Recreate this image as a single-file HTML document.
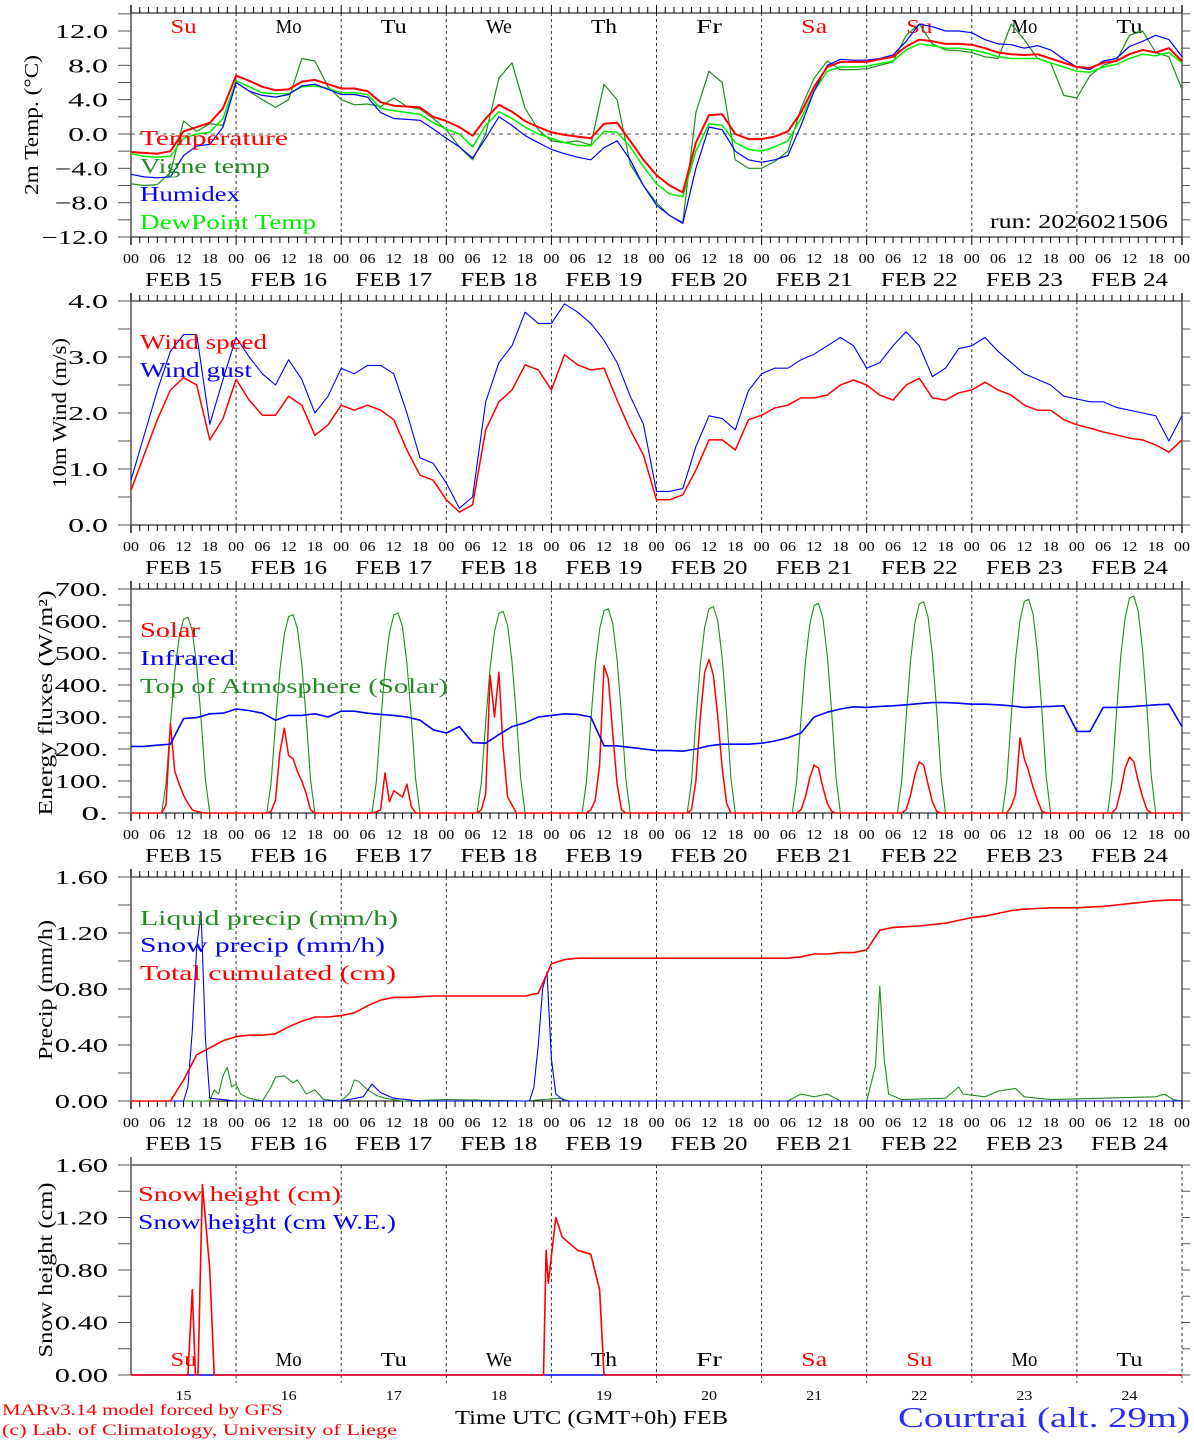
<!DOCTYPE html>
<html><head><meta charset="utf-8"><title>MAR forecast Courtrai</title>
<style>
html,body{margin:0;padding:0;background:#fff;}
svg{display:block;font-family:"Liberation Serif",serif;}
</style></head>
<body>
<svg id="chart" xmlns="http://www.w3.org/2000/svg" width="1194" height="1440" viewBox="0 0 1194 1440"></svg>
<script>
// ---------- DATA ----------
const dayNames = ["Su","Mo","Tu","We","Th","Fr","Sa","Su","Mo","Tu"];
const dayNums = ["15","16","17","18","19","20","21","22","23","24"];
const hourLabels = ["00","06","12","18"];
const tempTicks = ["12.0","8.0","4.0","0.0","\u22124.0","\u22128.0","\u221212.0"];
const tempTickVals = [12,8,4,0,-4,-8,-12];
const windTicks = ["4.0","3.0","2.0","1.0","0.0"];
const windTickVals = [4,3,2,1,0];
const fluxTicks = ["700.","600.","500.","400.","300.","200.","100.","0."];
const fluxTickVals = [700,600,500,400,300,200,100,0];
const precTicks = ["1.60","1.20","0.80","0.40","0.00"];
const precTickVals = [1.6,1.2,0.8,0.4,0];

// 3-hourly series (hour = index*3)
const temperature = [-2.1,-2.2,-2.3,-2.0,0.3,0.8,1.3,3.0,6.8, 6.2,5.5,5.1,5.2,6.1,6.3,5.8,5.3, 5.3,5.0,3.7,3.3,3.2,3.1,2.0,1.5, 0.8,-0.2,1.8,3.4,2.6,1.5,0.8,0.2, -0.1,-0.3,-0.5,1.2,1.3,-0.8,-3.0,-4.8, -6.0,-6.8,-1.0,2.2,2.3,0.0,-0.6,-0.6, -0.3,0.3,2.5,5.5,7.8,8.4,8.4,8.4, 8.7,9.0,10.2,11.0,10.8,10.5,10.5,10.4, 10.0,9.5,9.3,9.2,9.3,8.8,8.3,7.8, 7.7,8.3,8.5,9.3,9.8,9.5,10.0,8.5];
const humidex = [-4.7,-5.0,-5.1,-5.0,-2.5,-1.4,-1.2,0.8,6.0, 5.0,4.5,4.3,4.6,5.6,5.8,5.2,4.6, 4.6,4.3,2.5,1.8,1.7,1.6,0.6,-0.5, -1.5,-2.8,-0.5,2.0,1.0,-0.2,-1.0,-1.8, -2.3,-2.7,-3.0,-1.6,-0.8,-3.0,-6.0,-8.3, -9.5,-10.4,-4.0,0.8,0.5,-2.0,-3.0,-3.3, -3.0,-2.5,1.0,5.0,8.0,8.7,8.6,8.6, 8.8,9.2,10.8,12.8,12.5,12.0,12.0,11.8, 11.0,10.5,10.4,10.0,10.3,9.8,8.7,7.8, 7.5,8.5,8.8,10.2,10.8,11.5,11.0,9.0];
const dewpoint = [-2.3,-2.6,-2.7,-2.6,-0.5,0.0,0.2,1.8,6.2, 5.5,4.8,4.7,4.7,5.5,5.6,5.3,4.8, 4.8,4.6,3.0,2.7,2.5,2.3,1.3,0.6, 0.0,-1.5,1.0,2.6,1.8,0.8,0.0,-0.5, -1.0,-1.3,-1.4,0.3,0.2,-1.5,-3.8,-5.8, -7.0,-7.3,-2.0,1.2,1.0,-1.0,-1.8,-2.0, -1.5,-0.8,1.8,5.0,7.3,7.8,7.8,7.9, 8.2,8.5,9.8,10.5,10.3,10.0,10.0,9.8, 9.5,9.0,8.8,8.8,8.8,8.3,7.8,7.3, 7.2,7.8,8.1,8.8,9.3,9.1,9.5,8.3];
const vigne = [-5.8,-6.0,-5.9,-4.5,1.5,0.3,1.2,1.0,6.0, 5.0,4.0,3.1,4.0,8.8,8.5,5.5,4.0, 3.4,3.5,3.2,4.2,3.2,2.9,1.8,0.5, -1.5,-3.0,0.0,6.5,8.3,3.0,0.5,-0.8, -1.0,-0.8,-1.3,5.8,4.0,-3.5,-6.0,-8.0, -9.5,-10.3,2.5,7.3,6.0,-3.0,-4.0,-4.0, -3.2,-2.0,3.0,6.5,8.5,7.5,7.5,7.6, 8.0,8.4,11.5,12.8,10.5,9.8,9.7,9.5, 9.0,8.8,12.8,11.0,8.8,8.3,4.5,4.2, 6.8,8.0,8.5,11.5,12.0,9.5,9.0,5.2];
const windSpeed = [0.62,1.25,1.88,2.41,2.63,2.5,1.52,1.9,2.6, 2.23,1.96,1.96,2.3,2.14,1.6,1.79,2.14, 2.05,2.14,2.05,1.88,1.34,0.89,0.8,0.45, 0.23,0.36,1.7,2.2,2.41,2.86,2.77,2.41, 3.04,2.86,2.77,2.8,2.23,1.7,1.25,0.45, 0.45,0.54,0.98,1.52,1.52,1.34,1.88,1.96, 2.09,2.14,2.27,2.27,2.32,2.5,2.59,2.5, 2.32,2.23,2.5,2.62,2.27,2.23,2.36,2.41, 2.55,2.41,2.32,2.14,2.05,2.05,1.88,1.79, 1.73,1.66,1.61,1.55,1.52,1.43,1.3,1.52];
const windGust = [0.8,1.6,2.4,3.1,3.4,3.4,1.8,2.6,3.35, 3.0,2.7,2.5,2.95,2.6,2.0,2.3,2.8, 2.7,2.85,2.85,2.7,2.0,1.2,1.1,0.75, 0.3,0.5,2.2,2.9,3.2,3.8,3.6,3.6, 3.95,3.8,3.6,3.3,2.9,2.3,1.8,0.6, 0.6,0.65,1.4,1.95,1.9,1.7,2.4,2.7, 2.8,2.8,2.95,3.05,3.2,3.35,3.2,2.8, 2.9,3.2,3.45,3.2,2.65,2.8,3.15,3.2, 3.35,3.1,2.9,2.7,2.6,2.5,2.3,2.25, 2.2,2.2,2.1,2.05,2.0,1.95,1.5,1.95];
const infrared = [208,208,212,215,295,298,310,312,325, 320,312,290,305,305,310,300,318, 318,312,308,305,300,290,260,250, 270,220,218,245,270,282,300,305, 310,308,300,210,210,205,200,195, 195,193,200,210,215,215,215,218, 225,235,250,300,315,325,332,330, 333,335,338,342,345,345,343,340, 340,338,335,330,332,333,335,255, 255,330,330,332,335,338,340,270];
// solar per day, hourly from 06h to 18h
const solarDays = [
 [0,0,25,280,130,90,55,30,10,5,2,0,0],
 [0,0,5,40,190,265,180,170,130,100,60,10,0],
 [0,0,3,10,125,35,70,60,50,90,20,0,0],
 [0,0,10,60,430,300,440,200,50,25,0,0,0],
 [0,0,0,10,40,150,460,420,250,90,10,0,0],
 [0,0,10,100,300,440,480,430,300,140,30,0,0],
 [0,0,0,10,50,110,150,140,80,30,5,0,0],
 [0,0,0,10,55,120,160,150,90,35,5,0,0],
 [0,0,0,20,60,235,170,130,80,40,5,0,0],
 [0,0,0,15,70,140,175,160,100,50,10,0,0]];
// top-of-atmosphere daily peak and hourly profile (07h..18h)
const toaPeak = [612,620,625,630,638,645,655,660,668,678];
const toaProfile = [0,0.15,0.45,0.72,0.9,0.99,1.0,0.93,0.75,0.48,0.17,0];
// [hour, value] pairs
const liquidPrecip = [[0,0],[18,0],[19,0.08],[20,0.05],[21,0.18],[22,0.24],[23,0.1],[24,0.12],[25,0.05],[27,0.02],[30,0],[32,0.1],[33,0.17],[35,0.18],[37,0.13],[38,0.15],[40,0.05],[42,0.08],[44,0.01],[48,0],[50,0.06],[51,0.15],[52,0.14],[54,0.08],[56,0.04],[58,0.02],[62,0],[72,0.01],[90,0],[98,0.02],[100,0],[150,0],[153,0.05],[156,0.03],[159,0.05],[162,0],[168,0],[170,0.25],[171,0.82],[172,0.3],[173,0.05],[176,0.01],[186,0.02],[189,0.1],[190,0.05],[195,0.03],[198,0.07],[202,0.09],[204,0.03],[210,0.01],[222,0.02],[234,0.03],[236,0.05],[238,0.01],[240,0]];
const snowPrecip = [[0,0],[12,0],[13,0.1],[14,0.5],[15,1.1],[16,1.35],[17,0.45],[18,0.02],[24,0],[48,0],[53,0.03],[55,0.12],[57,0.06],[60,0.02],[66,0],[91,0],[92,0.1],[93,0.4],[94,0.8],[95,0.92],[96,0.3],[97,0.05],[99,0],[240,0]];
const totalCum = [0,0,0,0,0.15,0.33,0.38,0.43,0.46, 0.47,0.47,0.48,0.53,0.57,0.6,0.6,0.61, 0.63,0.68,0.72,0.74,0.74,0.745,0.75,0.75, 0.75,0.75,0.75,0.75,0.75,0.75,0.77,0.98, 1.01,1.02,1.02,1.02,1.02,1.02,1.02,1.02, 1.02,1.02,1.02,1.02,1.02,1.02,1.02,1.02, 1.02,1.02,1.03,1.05,1.05,1.06,1.06,1.08, 1.22,1.24,1.245,1.25,1.26,1.27,1.29,1.31, 1.32,1.34,1.36,1.37,1.375,1.38,1.38,1.38, 1.385,1.39,1.40,1.41,1.42,1.43,1.435,1.435];
const snowHeight = [[0,0],[13,0],[14,0.65],[14.7,0],[15.3,0],[16.3,1.45],[18,0.8],[19,0],[94.2,0],[94.8,0.95],[95.3,0.7],[97,1.2],[98.5,1.05],[102,0.95],[105,0.92],[107,0.65],[108,0],[240,0]];
const snowHeightWE = [[0,0],[240,0]];

// ---------- DRAWING ----------
const NS = "http://www.w3.org/2000/svg";
const svg = document.getElementById("chart");
const X0 = 131, X1 = 1182;
function xh(h){ return X0 + h*(X1-X0)/240; }
const panels = [
 {top:13,  bottom:237,  y:v=>237-(v+12)*206/24},
 {top:301, bottom:525,  y:v=>525-v*56},
 {top:589, bottom:813,  y:v=>813-v*0.32},
 {top:877, bottom:1101, y:v=>1101-v*140},
 {top:1165,bottom:1375, y:v=>1375-v*131.25}
];
function mk(tag, attrs, parent){
  const el = document.createElementNS(NS, tag);
  for (const k in attrs) el.setAttribute(k, attrs[k]);
  (parent||svg).appendChild(el);
  return el;
}
function line(x1,y1,x2,y2,stroke,name,extra){
  const el = mk("line",Object.assign({x1,y1,x2,y2,stroke,"stroke-width":1},extra||{}));
  
  
  return el;
}
function txt(x,y,s,size,fill,name,opts){
  opts = opts||{};
  const a = {x,y,"font-size":size,fill};
  if (opts.anchor) a["text-anchor"] = opts.anchor;
  if (opts.len) { a.textLength = opts.len; a.lengthAdjust = "spacingAndGlyphs"; }
  if (opts.transform) a.transform = opts.transform;
  if (opts.family) a["font-family"] = opts.family;
  const el = mk("text",a);
  el.textContent = s;
  
  
  return el;
}
function poly(pts,stroke,w,name){
  const el = mk("polyline",{points:pts.map(p=>p[0].toFixed(1)+","+p[1].toFixed(1)).join(" "),fill:"none",stroke,"stroke-width":w,"stroke-linejoin":"round"});
  
  
  return el;
}
function series3h(arr, p){ return arr.map((v,i)=>[xh(i*3), p.y(v)]); }
function seriesPairs(arr, p){ return arr.map(d=>[xh(d[0]), p.y(d[1])]); }

// frames, ticks, grid
panels.forEach((p,pi)=>{
  const last = pi===4;
  line(X0,p.top,X1,p.top,"#000","panel-top-border");
  line(X0,p.bottom,X1,p.bottom,"#000","panel-bottom-border");
  line(X0,p.top-8,X0,p.bottom+(last?0:8),"#555","y-axis-line",{"stroke-width":1.5});
  if(!last) line(X1,p.top-8,X1,p.bottom+8,"#555","right-axis-line",{"stroke-width":1.5});
  for(let h=0; h<=240; h+=2){
    const x = xh(h), major = h%24===0;
    if(!last){
      line(x,p.top-(major?8:6),x,p.top,"#000","top-tick");
      line(x,p.bottom,x,p.bottom+(major?8:6),"#000","bottom-tick");
    }
  }
  for(let d=1; d<10; d++){
    const x = xh(d*24);
    line(x,p.top,x,p.bottom+(last?8:0),"#333","day-divider",{"stroke-dasharray":"3,3"});
  }
  if(last){
    line(X1,p.top,X1,p.bottom+8,"#333","day-divider",{"stroke-dasharray":"3,3"});
  }
  if(!last){
    for(let d=0; d<10; d++){
      hourLabels.forEach((lab,k)=>{
        txt(xh(d*24+k*6),p.bottom+26,lab,14,"#000","hour-label",{anchor:"middle",len:16});
      });
      txt(xh(d*24+12),p.bottom+49,"FEB "+dayNums[d],20,"#000","date-label",{anchor:"middle",len:77});
    }
    txt(xh(240),p.bottom+26,"00",14,"#000","hour-label",{anchor:"middle",len:16});
  }
});

function yAxis(p, vals, labels, minorStep, lo, hi, charW){
  for(let v=lo; v<=hi+1e-9; v+=minorStep){
    const y = p.y(v);
    line(X0-13,y,X0,y,"#555","y-tick");
    line(X1,y,X1+8,y,"#555","y-tick-right");
  }
  vals.forEach((v,i)=>{
    const s = labels[i];
    txt(108,p.y(v)+7,s,20,"#000","y-tick-label",{anchor:"end",len:s.length*charW});
  });
}
yAxis(panels[0],tempTickVals,tempTicks,2,-12,14,13.3);
yAxis(panels[1],windTickVals,windTicks,0.5,0,4,13.3);
yAxis(panels[2],fluxTickVals,fluxTicks,50,0,700,13.3);
yAxis(panels[3],precTickVals,precTicks,0.2,0,1.6,13.3);
yAxis(panels[4],precTickVals,precTicks,0.2,0,1.6,13.3);

// y titles
function yTitle(x,yc,s,len,name){
  txt(x,yc,s,20,"#000",name,{anchor:"middle",len:len,transform:"rotate(-90 "+x+" "+yc+")"});
}
yTitle(38,125,"2m Temp. (\u00B0C)",140,"y-axis-title-temp");
yTitle(66,413,"10m Wind (m/s)",150,"y-axis-title-wind");
yTitle(52,703,"Energy fluxes (W/m\u00B2)",225,"y-axis-title-flux");
yTitle(52,990,"Precip (mm/h)",140,"y-axis-title-precip");
yTitle(52,1270,"Snow height (cm)",175,"y-axis-title-snow");

// zero line temp
line(X0,panels[0].y(0),X1,panels[0].y(0),"#555","zero-line",{"stroke-dasharray":"4,4"});

// day names
const redDays = [0,6,7];
dayNames.forEach((n,d)=>{
  const c = redDays.includes(d) ? "#f00" : "#000";
  txt(xh(d*24+12),33,n,20,c,"day-name",{anchor:"middle",len:26});
  txt(xh(d*24+12),1366,n,20,c,"day-name-bottom",{anchor:"middle",len:26});
  txt(xh(d*24+12),1400,dayNums[d],14,"#000","day-number",{anchor:"middle",len:16});
});

// panel 1 series
const p1 = panels[0];
poly(series3h(vigne,p1),"#228b22",1.2,"vigne-temp-line");
poly(series3h(dewpoint,p1),"#00ee00",1.5,"dewpoint-line");
poly(series3h(humidex,p1),"#0000ff",1.2,"humidex-line");
poly(series3h(temperature,p1),"#ff0000",2,"temperature-line");
txt(140,145,"Temperature",21,"#f00","legend-temperature",{len:148});
txt(140,173,"Vigne temp",21,"#228b22","legend-vigne",{len:130});
txt(140,201,"Humidex",21,"#00f","legend-humidex",{len:100});
txt(140,229,"DewPoint Temp",21,"#0e0","legend-dewpoint",{len:176});
txt(1168,228,"run: 2026021506",20,"#000","run-label",{anchor:"end",len:178});

// panel 2
const p2 = panels[1];
poly(series3h(windGust,p2),"#0000ff",1.1,"wind-gust-line");
poly(series3h(windSpeed,p2),"#ff0000",1.5,"wind-speed-line");
txt(140,349,"Wind speed",21,"#f00","legend-wind-speed",{len:127});
txt(140,377,"Wind gust",21,"#00f","legend-wind-gust",{len:112});

// panel 3
const p3 = panels[2];
const toaPts = [[xh(0),p3.y(0)]];
toaPeak.forEach((pk,d)=>{ toaProfile.forEach((f,k)=>{ toaPts.push([xh(d*24+7+k),p3.y(pk*f)]); }); });
toaPts.push([xh(240),p3.y(0)]);
poly(toaPts,"#228b22",1.1,"toa-solar-line");
const solPts = [[xh(0),p3.y(0)]];
solarDays.forEach((arr,d)=>{ arr.forEach((v,k)=>{ solPts.push([xh(d*24+6+k),p3.y(v)]); }); });
solPts.push([xh(240),p3.y(0)]);
poly(solPts,"#ff0000",1.5,"solar-line");
poly(series3h(infrared,p3),"#0000ff",1.6,"infrared-line");
txt(140,637,"Solar",21,"#f00","legend-solar",{len:60});
txt(140,665,"Infrared",21,"#00f","legend-infrared",{len:95});
txt(140,693,"Top of Atmosphere (Solar)",21,"#228b22","legend-toa",{len:308});

// panel 4
const p4 = panels[3];
poly(seriesPairs(liquidPrecip,p4),"#228b22",1.1,"liquid-precip-line");
poly(seriesPairs(snowPrecip,p4),"#0000ff",1.1,"snow-precip-line");
poly(series3h(totalCum,p4),"#ff0000",1.6,"total-cumulated-line");
txt(140,925,"Liquid precip (mm/h)",21,"#228b22","legend-liquid",{len:258});
txt(140,952,"Snow precip (mm/h)",21,"#00f","legend-snow-precip",{len:245});
txt(140,980,"Total cumulated (cm)",21,"#f00","legend-total",{len:256});

// panel 5
const p5 = panels[4];
poly(seriesPairs(snowHeightWE,p5),"#0000ff",1.5,"snow-we-line");
poly(seriesPairs(snowHeight,p5),"#ff0000",1.6,"snow-height-line");
txt(138,1201,"Snow height (cm)",21,"#f00","legend-snow-height",{len:203});
txt(138,1229,"Snow height (cm W.E.)",21,"#00f","legend-snow-we",{len:258});

// footer
txt(2,1415,"MARv3.14 model forced by GFS",16,"#f00","model-credit",{len:281});
txt(2,1435,"(c) Lab. of Climatology, University of Liege",16,"#f00","lab-credit",{len:395});
txt(455,1424,"Time UTC (GMT+0h) FEB",20,"#000","x-axis-title",{len:273});
txt(898,1427,"Courtrai (alt. 29m)",28,"#2a2aff","location-title",{len:292});
</script>
</body></html>
